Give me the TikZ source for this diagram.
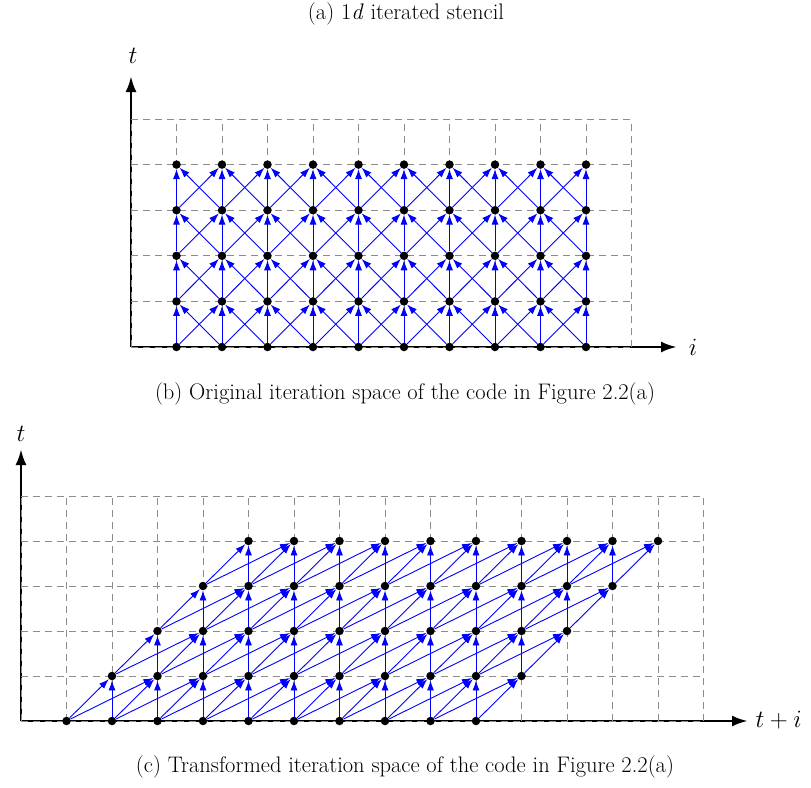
\documentclass[tikz,border=0pt]{standalone}
\usetikzlibrary{arrows.meta}
\begin{document}
\begin{tikzpicture}[x=1pt,y=-1pt,
  dot/.style={circle,fill=black,inner sep=0pt,minimum size=8.5pt},
  dep/.style={blue,line width=0.9pt,-{Latex[length=10pt,width=7pt]}},
  gridline/.style={black!45,line width=0.8pt,dash pattern=on 7pt off 5pt},
  axisline/.style={line width=2.8pt,-{Latex[length=16pt,width=11pt]}},
  captext/.style={font=\fontsize{22.5}{26}\selectfont},
  lbl/.style={font=\fontsize{26}{28}\selectfont}]
\useasboundingbox (0,0) rectangle (811,787);

% ---------- top diagram ----------
\coordinate (oa) at (131,347);
\coordinate (xa) at (677,347);
\coordinate (ya) at (131,76);
\draw[axisline] (oa) -- (xa);
\draw[axisline] (oa) -- (ya);
\foreach \i in {0,...,11}
  \draw[gridline] ({131+45.5*\i},347) -- ({131+45.5*\i},119);
\foreach \t in {0,...,5}
  \draw[gridline] (131,{347-45.6*\t}) -- (631.5,{347-45.6*\t});
\foreach \i in {1,...,10}
  \foreach \t in {0,...,4}
    \node[dot] (a-\i-\t) at ({131+45.5*\i},{347-45.6*\t}) {};
\foreach \i in {1,...,10}
  \foreach \t in {0,...,3}{
    \pgfmathtruncatemacro\u{\t+1}
    \pgfmathtruncatemacro\l{\i-1}
    \pgfmathtruncatemacro\r{\i+1}
    \draw[dep] (a-\i-\t) -- (a-\i-\u);
    \ifnum\i>1 \draw[dep] (a-\i-\t) -- (a-\l-\u); \fi
    \ifnum\i<10 \draw[dep] (a-\i-\t) -- (a-\r-\u); \fi
  }
\node[lbl] (ta) at (133,56) {$t$};
\node[lbl] (ia) at (693,347) {$i$};

% ---------- bottom diagram ----------
\coordinate (ob) at (21,721);
\coordinate (xb) at (748,721);
\coordinate (yb) at (21,449);
\draw[axisline] (ob) -- (xb);
\draw[axisline] (ob) -- (yb);
\foreach \i in {0,...,15}
  \draw[gridline] ({21+45.5*\i},721) -- ({21+45.5*\i},496);
\foreach \t in {0,...,5}
  \draw[gridline] (21,{721-45*\t}) -- (703.5,{721-45*\t});
\foreach \i in {1,...,10}
  \foreach \t in {0,...,4}{
    \pgfmathtruncatemacro\s{\i+\t}
    \node[dot] (b-\i-\t) at ({21+45.5*\s},{721-45*\t}) {};
  }
\foreach \i in {1,...,10}
  \foreach \t in {0,...,3}{
    \pgfmathtruncatemacro\u{\t+1}
    \pgfmathtruncatemacro\l{\i-1}
    \pgfmathtruncatemacro\r{\i+1}
    \draw[dep] (b-\i-\t) -- (b-\i-\u);
    \ifnum\i>1 \draw[dep] (b-\i-\t) -- (b-\l-\u); \fi
    \ifnum\i<10 \draw[dep] (b-\i-\t) -- (b-\r-\u); \fi
  }
\node[lbl] (tb) at (21,434) {$t$};
\node[lbl,anchor=west] (ib) at (752,720) {$t+i$};

% ---------- captions ----------
\node[captext] (capa) at (406,14) {(a) 1\textit{d} iterated stencil};
\node[captext] (capb) at (405,394) {(b) Original iteration space of the code in Figure 2.2(a)};
\node[captext] (capc) at (405,767) {(c) Transformed iteration space of the code in Figure 2.2(a)};
\end{tikzpicture}
\end{document}
